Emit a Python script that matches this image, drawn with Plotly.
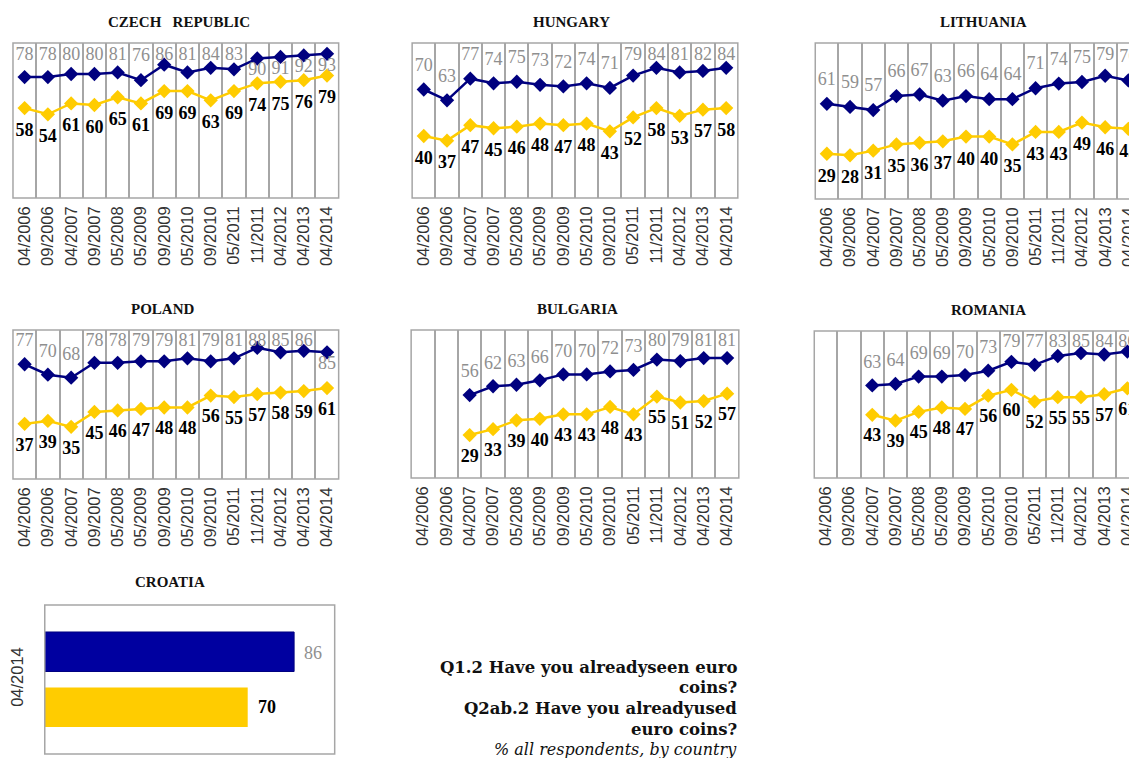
"""Euro coins awareness by country: small multiples of seen/used series."""

import plotly.graph_objects as go

# browser window size; the page body adds an 8px margin round the figure
W, H = 1137, 758
OFF = 8
FW, FH = W - OFF, H - OFF

DATES = [
    "04/2006", "09/2006", "04/2007", "09/2007", "05/2008", "05/2009", "09/2009",
    "05/2010", "09/2010", "05/2011", "11/2011", "04/2012", "04/2013", "04/2014",
]

CZ_SEEN = [78, 78, 80, 80, 81, 76, 86, 81, 84, 83, 90, 91, 92, 93]
CZ_USED = [58, 54, 61, 60, 65, 61, 69, 69, 63, 69, 74, 75, 76, 79]
HU_SEEN = [70, 63, 77, 74, 75, 73, 72, 74, 71, 79, 84, 81, 82, 84]
HU_USED = [40, 37, 47, 45, 46, 48, 47, 48, 43, 52, 58, 53, 57, 58]
LT_SEEN = [61, 59, 57, 66, 67, 63, 66, 64, 64, 71, 74, 75, 79, 76]
LT_USED = [29, 28, 31, 35, 36, 37, 40, 40, 35, 43, 43, 49, 46, 45]
PL_SEEN = [77, 70, 68, 78, 78, 79, 79, 81, 79, 81, 88, 85, 86, 85]
PL_USED = [37, 39, 35, 45, 46, 47, 48, 48, 56, 55, 57, 58, 59, 61]
BG_SEEN = [None, None, 56, 62, 63, 66, 70, 70, 72, 73, 80, 79, 81, 81]
BG_USED = [None, None, 29, 33, 39, 40, 43, 43, 48, 43, 55, 51, 52, 57]
RO_SEEN = [None, None, 63, 64, 69, 69, 70, 73, 79, 77, 83, 85, 84, 86]
RO_USED = [None, None, 43, 39, 45, 48, 47, 56, 60, 52, 55, 55, 57, 61]

HR_DATE = ["04/2014"]
HR_SEEN = [86]
HR_USED = [70]

QUESTION_LINES = [
    "Q1.2 Have you alreadyseen euro",
    "coins?",
    "Q2ab.2 Have you alreadyused",
    "euro coins?",
]
SUBTITLE = "% all respondents, by country"

NAVY = "#00007f"
YELLOW = "#ffcc00"
GREY_LABEL = "#8f8f8f"
FRAME = "#a6a6a6"
SERIF = "Liberation Serif"
SANS = "Liberation Sans"


def fx(p):
    """Page pixel x -> paper fraction."""
    return (p - OFF) / FW


def fy(p):
    """Page pixel y -> paper fraction."""
    return 1 - (p - OFF) / FH


# (title, seen, used, left, right, top, bottom, title centre x, seen labels put below)
panels = [
    ("CZECH\u00a0\u00a0\u00a0REPUBLIC", CZ_SEEN, CZ_USED, 10, 338, 43, 198, 177, [10, 11, 12, 13]),
    ("HUNGARY", HU_SEEN, HU_USED, 412, 740, 43, 198, 573, []),
    ("LITHUANIA", LT_SEEN, LT_USED, 818, 1145, 43, 199, 987, []),
    ("POLAND", PL_SEEN, PL_USED, 10, 338, 330, 479, 161, [13]),
    ("BULGARIA", BG_SEEN, BG_USED, 411, 741, 330, 478, 579, []),
    ("ROMANIA", RO_SEEN, RO_USED, 817, 1144, 331, 478, 992, []),
]


def seen_label_y(vals, below):
    out = []
    for i, v in enumerate(vals):
        if v is None:
            out.append(None)
        elif i in below:
            out.append(v - 8)
        else:
            out.append(min(v + 15, 92))
    return out


def used_label_y(vals):
    return [None if v is None else v - 15 for v in vals]


def as_text(vals):
    return ["" if v is None else str(v) for v in vals]


fig = go.Figure()
shapes = []
annotations = []
layout_axes = {}

for n, (title, seen, used, left, right, top, bottom, tx, below) in enumerate(panels, start=1):
    sfx = "" if n == 1 else str(n)
    xa, ya = "x" + sfx, "y" + sfx
    vis_right = min(right, W)
    cat_w = (right - left) / len(DATES)
    x_end = -0.5 + (vis_right - left) / cat_w

    common = dict(x=DATES, xaxis=xa, yaxis=ya, showlegend=False, hoverinfo="skip")
    fig.add_trace(go.Scatter(
        y=seen, mode="lines+markers",
        line=dict(color=NAVY, width=2.5),
        marker=dict(symbol="diamond", size=11, color=NAVY),
        **common,
    ))
    fig.add_trace(go.Scatter(
        y=used, mode="lines+markers",
        line=dict(color=YELLOW, width=2.5),
        marker=dict(symbol="diamond", size=11, color=YELLOW),
        **common,
    ))
    fig.add_trace(go.Scatter(
        y=seen_label_y(seen, below), mode="text", text=as_text(seen),
        textposition="middle center", cliponaxis=False,
        textfont=dict(family=SERIF, size=18, color=GREY_LABEL),
        **common,
    ))
    fig.add_trace(go.Scatter(
        y=used_label_y(used), mode="text", text=as_text(used),
        textposition="middle center", cliponaxis=False,
        textfont=dict(family=SERIF, size=18, color="#000000", weight="bold"),
        **common,
    ))

    layout_axes["xaxis" + sfx] = dict(
        domain=[fx(left), fx(vis_right)],
        anchor=ya,
        type="category",
        categoryorder="array",
        categoryarray=DATES,
        range=[-0.5, x_end],
        tickson="boundaries",
        showgrid=True,
        gridcolor=FRAME,
        gridwidth=1.5,
        ticks="",
        tickangle=-90,
        ticklabelstandoff=4,
        tickfont=dict(family=SANS, size=16.5, color="#333333"),
        showline=False,
        zeroline=False,
        fixedrange=True,
    )
    layout_axes["yaxis" + sfx] = dict(
        domain=[fy(bottom), fy(top)],
        anchor=xa,
        range=[0, 100],
        visible=False,
        fixedrange=True,
    )
    shapes.append(dict(
        type="rect", xref="paper", yref="paper",
        x0=fx(left), x1=fx(right), y0=fy(bottom), y1=fy(top),
        line=dict(color=FRAME, width=1.5),
    ))
    annotations.append(dict(
        x=fx(tx), y=fy(top - 21), xref="paper", yref="paper",
        text=title, showarrow=False, xanchor="center", yanchor="middle",
        font=dict(family=SERIF, size=15, color="#111111", weight="bold"),
    ))

# Croatia: single survey wave, horizontal bars
fig.add_trace(go.Bar(
    x=HR_USED, y=HR_DATE, orientation="h", xaxis="x7", yaxis="y7",
    marker=dict(color=YELLOW, line=dict(width=0)),
    showlegend=False, hoverinfo="skip",
))
fig.add_trace(go.Bar(
    x=HR_SEEN, y=HR_DATE, orientation="h", xaxis="x7", yaxis="y7",
    marker=dict(color="#0000a0", line=dict(color="#000080", width=1)),
    showlegend=False, hoverinfo="skip",
))
# value labels just right of each bar end (seen bar sits in the upper slot)
for val, yshift, colour, weight in [
    (HR_SEEN[0], 27, GREY_LABEL, "normal"),
    (HR_USED[0], -27, "#000000", "bold"),
]:
    annotations.append(dict(
        x=val, y=HR_DATE[0], xref="x7", yref="y7", text=str(val),
        showarrow=False, xanchor="left", yanchor="middle",
        xshift=8, yshift=yshift,
        font=dict(family=SERIF, size=18, color=colour, weight=weight),
    ))
layout_axes["xaxis7"] = dict(
    domain=[fx(42), fx(334)], anchor="y7", range=[0, 100],
    visible=False, fixedrange=True,
)
layout_axes["yaxis7"] = dict(
    domain=[fy(754), fy(605)], anchor="x7", type="category",
    showgrid=False, zeroline=False, showline=False, ticks="",
    tickangle=-90, ticklabelstandoff=17,
    tickfont=dict(family=SANS, size=16.5, color="#333333"),
    fixedrange=True,
)
shapes.append(dict(
    type="rect", xref="paper", yref="paper",
    x0=fx(42), x1=fx(334), y0=fy(754), y1=fy(605),
    line=dict(color=FRAME, width=1.5),
))
annotations.append(dict(
    x=fx(168), y=fy(582), xref="paper", yref="paper",
    text="CROATIA", showarrow=False, xanchor="center", yanchor="middle",
    font=dict(family=SERIF, size=15, color="#111111", weight="bold"),
))

# question text, right aligned
line_y = [667, 687, 708, 729]
for txt, py in zip(QUESTION_LINES, line_y):
    annotations.append(dict(
        x=fx(741), y=fy(py), xref="paper", yref="paper",
        text=txt, showarrow=False, xanchor="right", yanchor="middle",
        font=dict(family="DejaVu Serif", size=16.5, color="#111111", weight="bold"),
    ))
annotations.append(dict(
    x=fx(741), y=fy(749), xref="paper", yref="paper",
    text=SUBTITLE, showarrow=False, xanchor="right", yanchor="middle",
    font=dict(family="DejaVu Serif", size=16, color="#111111", style="italic"),
))

fig.update_layout(
    width=FW,
    height=FH,
    autosize=False,
    margin=dict(l=0, r=0, t=0, b=0),
    paper_bgcolor="white",
    plot_bgcolor="white",
    barmode="group",
    bargap=0.255,
    bargroupgap=0.288,
    shapes=shapes,
    annotations=annotations,
    **layout_axes,
)

fig.write_html("out.html")
